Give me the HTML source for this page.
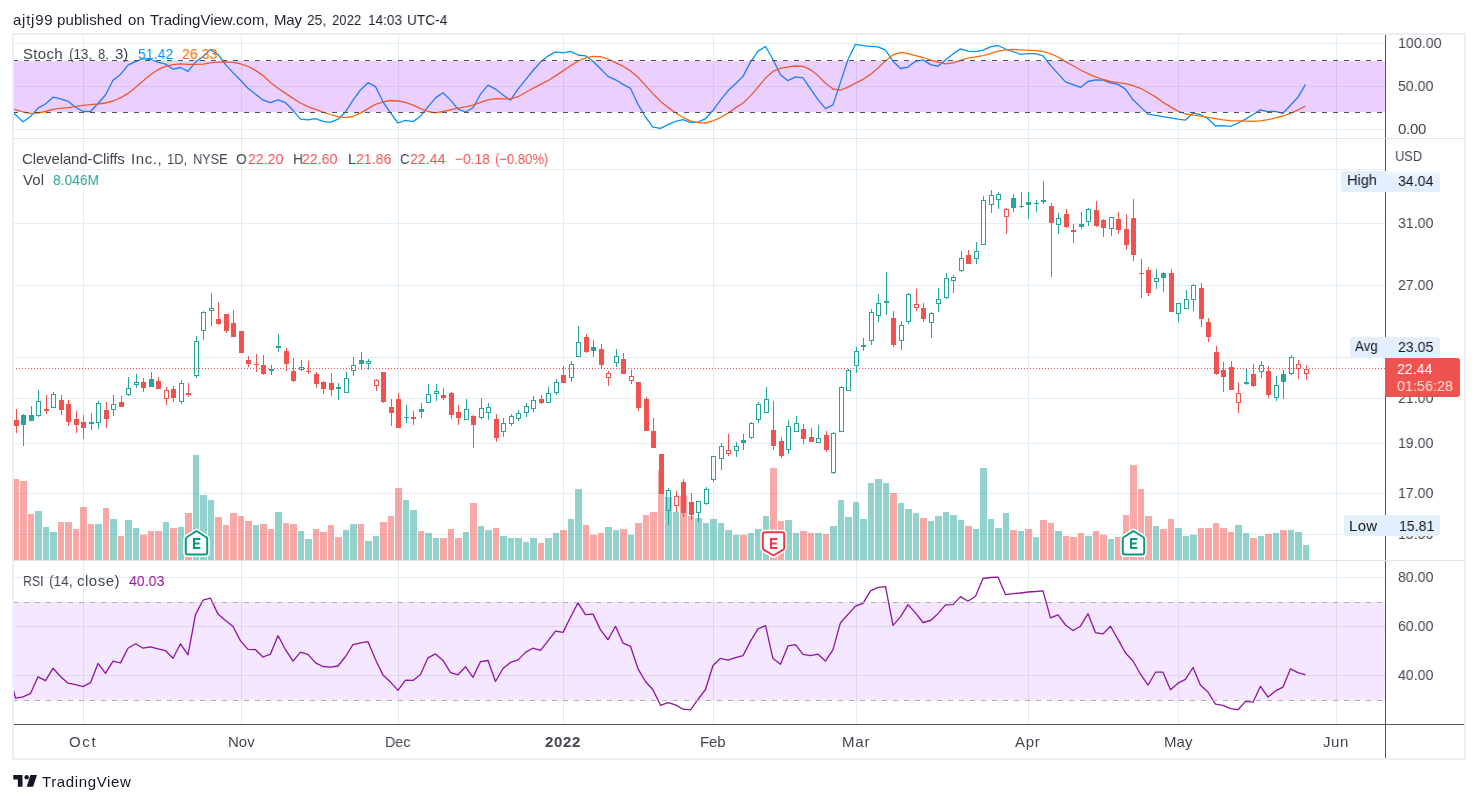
<!DOCTYPE html><html><head><meta charset="utf-8"><title>CLF chart</title><style>
html,body{margin:0;padding:0;background:#fff;}
body{width:1478px;height:803px;position:relative;overflow:hidden;font-family:"Liberation Sans",sans-serif;font-size:15px;}
.t{will-change:transform;position:absolute;white-space:nowrap;line-height:16px;height:16px;font-size:15px;}
.b{position:absolute;border-radius:3px;}

</style></head><body>
<svg width="1478" height="803" viewBox="0 0 1478 803" style="position:absolute;left:0;top:0">
<path d="M83.5 35V724M241.5 35V724M398.5 35V724M563.5 35V724M713.5 35V724M856.5 35V724M1028.5 35V724M1178.5 35V724M1336.5 35V724M14 43.5H1385M14 86.5H1385M14 129.5H1385M14 169.5H1385M14 223.5H1385M14 285.5H1385M14 357.5H1385M14 398.5H1385M14 443.5H1385M14 493.5H1385M14 534.5H1385M14 577.5H1385M14 626.5H1385M14 675.5H1385" stroke="#e3edf4" stroke-width="1" fill="none"/>
<clipPath id="c1"><rect x="14" y="34" width="1371" height="104"/></clipPath>
<g clip-path="url(#c1)" fill="none" stroke-width="1.3" stroke-linejoin="round">
<polyline points="13.4,112.8 15.5,114.8 23.0,121.8 30.5,116.5 38.0,108.1 45.5,104.0 53.0,97.2 60.5,98.9 68.0,101.3 75.5,107.2 83.0,111.5 90.5,111.5 98.0,103.5 105.5,95.0 113.0,80.3 120.5,74.4 128.0,65.1 135.5,61.7 143.0,58.7 150.5,59.5 158.0,62.1 165.5,64.1 173.0,69.2 180.5,67.5 188.0,71.4 195.5,62.1 203.0,56.7 210.5,49.4 218.0,54.5 225.5,64.6 233.0,72.6 240.5,80.3 248.0,88.3 255.5,94.2 263.0,100.1 270.5,102.7 278.0,99.8 285.5,102.7 293.0,110.3 300.5,119.1 308.0,119.9 315.5,118.7 323.0,121.3 330.5,122.3 338.0,119.2 345.5,112.0 353.0,100.1 360.5,90.0 368.0,82.7 375.5,86.6 383.0,101.8 390.5,112.8 398.0,123.0 405.5,120.4 413.0,121.6 420.5,116.2 428.0,106.9 435.5,97.9 443.0,92.8 450.5,100.1 458.0,109.1 465.5,112.0 473.0,107.7 480.5,94.2 488.0,85.1 495.5,89.1 503.0,95.0 510.5,100.1 518.0,89.1 525.5,79.8 533.0,70.5 540.5,62.1 548.0,56.1 555.5,51.9 563.0,52.8 570.5,51.4 578.0,55.0 585.5,55.8 593.0,61.2 600.5,68.8 608.0,76.4 615.5,79.8 623.0,84.4 630.5,88.3 638.0,104.4 645.5,117.0 653.0,127.2 660.5,128.4 668.0,124.6 675.5,121.3 683.0,119.6 690.5,122.4 698.0,122.1 705.5,118.7 713.0,110.3 720.5,100.1 728.0,90.8 735.5,83.7 743.0,76.4 750.5,62.1 758.0,51.1 765.5,46.5 773.0,59.5 780.5,74.7 788.0,80.7 795.5,76.9 803.0,77.8 810.5,88.8 818.0,99.6 825.5,108.6 833.0,104.9 840.5,82.4 848.0,59.5 855.5,44.3 863.0,45.7 870.5,46.3 878.0,46.8 885.5,50.2 893.0,61.2 900.5,68.5 908.0,67.1 915.5,61.2 923.0,59.9 930.5,64.6 938.0,66.3 945.5,60.0 953.0,53.9 960.5,48.9 968.0,51.2 975.5,51.6 983.0,50.2 990.5,46.8 998.0,45.5 1005.5,49.0 1013.0,51.6 1020.5,54.3 1028.0,53.6 1035.5,53.6 1043.0,55.8 1050.5,65.4 1058.0,73.6 1065.5,81.9 1073.0,84.6 1080.5,87.4 1088.0,81.5 1095.5,79.8 1103.0,80.2 1110.5,82.9 1118.0,84.4 1125.5,89.1 1133.0,99.8 1140.5,106.9 1148.0,114.2 1155.5,115.3 1163.0,116.7 1170.5,117.9 1178.0,119.2 1185.5,120.1 1193.0,113.1 1200.5,114.7 1208.0,118.7 1215.5,126.0 1223.0,125.7 1230.5,126.3 1238.0,123.0 1245.5,119.1 1253.0,114.5 1260.5,109.9 1268.0,111.6 1275.5,111.3 1283.0,113.3 1290.5,105.2 1298.0,97.2 1305.5,84.4" stroke="#0094ff"/>
<polyline points="13.4,108.9 15.5,109.6 23.0,112.0 30.5,113.3 38.0,113.1 45.5,111.5 53.0,109.4 60.5,108.4 68.0,107.7 75.5,106.7 83.0,105.4 90.5,104.7 98.0,104.0 105.5,103.0 113.0,101.0 120.5,97.9 128.0,93.4 135.5,87.4 143.0,81.0 150.5,74.7 158.0,69.7 165.5,66.3 173.0,64.6 180.5,63.8 188.0,64.3 195.5,64.4 203.0,64.1 210.5,62.9 218.0,62.1 225.5,61.9 233.0,62.4 240.5,63.8 248.0,66.3 255.5,70.4 263.0,75.6 270.5,82.4 278.0,88.3 285.5,93.4 293.0,98.4 300.5,103.0 308.0,106.7 315.5,109.4 323.0,112.1 330.5,114.5 338.0,116.7 345.5,117.7 353.0,116.5 360.5,113.1 368.0,108.6 375.5,104.4 383.0,101.8 390.5,100.5 398.0,101.0 405.5,102.3 413.0,105.2 420.5,108.6 428.0,111.5 435.5,112.8 443.0,111.5 450.5,109.8 458.0,108.1 465.5,106.9 473.0,105.2 480.5,102.3 488.0,99.8 495.5,98.6 503.0,98.9 510.5,98.9 518.0,96.7 525.5,92.5 533.0,88.3 540.5,84.4 548.0,80.7 555.5,75.9 563.0,70.9 570.5,65.8 578.0,61.2 585.5,57.8 593.0,56.3 600.5,56.7 608.0,59.0 615.5,62.6 623.0,66.3 630.5,70.9 638.0,77.3 645.5,85.4 653.0,93.9 660.5,101.3 668.0,107.4 675.5,112.8 683.0,117.5 690.5,120.9 698.0,122.6 705.5,123.0 713.0,120.9 720.5,117.5 728.0,113.1 735.5,107.9 743.0,103.0 750.5,95.9 758.0,87.1 765.5,78.1 773.0,71.4 780.5,68.3 788.0,66.8 795.5,66.0 803.0,66.3 810.5,69.7 818.0,75.6 825.5,83.2 833.0,89.1 840.5,90.0 848.0,87.1 855.5,83.2 863.0,79.3 870.5,74.4 878.0,68.0 885.5,60.9 893.0,54.8 900.5,52.4 908.0,53.6 915.5,55.6 923.0,57.5 930.5,60.0 938.0,62.1 945.5,63.8 953.0,62.9 960.5,60.4 968.0,58.2 975.5,56.8 983.0,55.6 990.5,53.6 998.0,51.2 1005.5,49.9 1013.0,49.4 1020.5,49.9 1028.0,50.2 1035.5,50.6 1043.0,51.4 1050.5,53.6 1058.0,57.0 1065.5,61.6 1073.0,65.8 1080.5,70.0 1088.0,73.6 1095.5,76.8 1103.0,79.5 1110.5,81.5 1118.0,82.7 1125.5,83.7 1133.0,85.7 1140.5,88.3 1148.0,92.5 1155.5,96.9 1163.0,102.2 1170.5,106.9 1178.0,111.1 1185.5,114.0 1193.0,115.2 1200.5,116.2 1208.0,117.4 1215.5,118.6 1223.0,119.9 1230.5,120.6 1238.0,120.9 1245.5,121.1 1253.0,121.3 1260.5,120.8 1268.0,119.6 1275.5,117.9 1283.0,116.0 1290.5,113.3 1298.0,109.9 1305.5,106.0" stroke="#ff6a00"/>
</g>
<rect x="14" y="61" width="1371" height="51" fill="rgba(153,21,255,0.2)"/>
<path d="M13 60.5H1385M13 112.5H1385" stroke="#55505a" stroke-width="1" stroke-dasharray="5 6" fill="none"/>
<path d="M35 511.0H42V560H35ZM43 527.0H49V560H43ZM50 531.9H57V560H50ZM95 524.0H102V560H95ZM110 518.9H117V560H110ZM125 520.0H132V560H125ZM133 527.9H139V560H133ZM163 522.0H169V560H163ZM178 527.0H184V560H178ZM193 454.9H199V560H193ZM200 495.0H207V560H200ZM208 500.0H214V560H208ZM253 525.0H259V560H253ZM275 511.9H282V560H275ZM298 531.0H304V560H298ZM305 539.0H312V560H305ZM343 529.9H349V560H343ZM350 524.0H357V560H350ZM365 541.0H372V560H365ZM373 535.9H379V560H373ZM403 500.0H409V560H403ZM410 510.0H417V560H410ZM425 532.9H432V560H425ZM433 538.0H439V560H433ZM463 531.9H469V560H463ZM478 525.9H484V560H478ZM485 529.9H492V560H485ZM500 535.9H507V560H500ZM508 538.0H514V560H508ZM515 538.0H522V560H515ZM523 542.0H529V560H523ZM530 538.0H537V560H530ZM545 538.0H552V560H545ZM553 532.9H559V560H553ZM568 518.9H574V560H568ZM575 489.0H582V560H575ZM605 527.0H612V560H605ZM613 529.9H619V560H613ZM628 534.8H634V560H628ZM665 496.9H672V560H665ZM673 511.9H679V560H673ZM695 518.0H702V560H695ZM703 522.9H709V560H703ZM710 518.9H717V560H710ZM718 522.9H724V560H718ZM725 529.9H732V560H725ZM733 534.8H739V560H733ZM748 532.9H754V560H748ZM755 528.9H762V560H755ZM763 515.9H769V560H763ZM785 520.0H792V560H785ZM793 532.9H799V560H793ZM815 532.9H822V560H815ZM830 525.9H837V560H830ZM838 500.0H844V560H838ZM845 517.0H852V560H845ZM853 502.0H859V560H853ZM860 518.9H867V560H860ZM868 483.0H874V560H868ZM875 479.0H882V560H875ZM883 483.0H889V560H883ZM898 503.0H904V560H898ZM905 508.9H912V560H905ZM913 513.0H919V560H913ZM928 521.0H934V560H928ZM935 515.9H942V560H935ZM943 511.9H949V560H943ZM950 514.9H957V560H950ZM958 520.0H964V560H958ZM973 528.9H979V560H973ZM980 468.0H987V560H980ZM988 518.9H994V560H988ZM995 527.9H1002V560H995ZM1003 513.0H1009V560H1003ZM1018 531.0H1024V560H1018ZM1033 536.9H1039V560H1033ZM1055 531.0H1062V560H1055ZM1085 535.9H1092V560H1085ZM1108 539.0H1114V560H1108ZM1153 525.9H1159V560H1153ZM1175 527.9H1182V560H1175ZM1183 535.9H1189V560H1183ZM1190 534.8H1197V560H1190ZM1235 525.0H1242V560H1235ZM1243 532.9H1249V560H1243ZM1258 536.1H1264V560H1258ZM1273 533.1H1279V560H1273ZM1288 530.0H1294V560H1288ZM1295 532.1H1302V560H1295ZM1303 545.1H1309V560H1303Z" fill="rgba(38,166,154,0.5)"/>
<path d="M14 479.0H19V560H14ZM20 481.0H27V560H20ZM28 514.0H34V560H28ZM58 522.0H64V560H58ZM65 522.0H72V560H65ZM73 528.9H79V560H73ZM80 507.0H87V560H80ZM88 524.0H94V560H88ZM103 508.1H109V560H103ZM118 535.9H124V560H118ZM140 534.8H147V560H140ZM148 531.0H154V560H148ZM155 531.0H162V560H155ZM170 527.9H177V560H170ZM185 513.0H192V560H185ZM215 517.0H222V560H215ZM223 525.0H229V560H223ZM230 513.0H237V560H230ZM238 515.9H244V560H238ZM245 521.0H252V560H245ZM260 524.0H267V560H260ZM268 528.9H274V560H268ZM283 522.9H289V560H283ZM290 524.0H297V560H290ZM313 528.9H319V560H313ZM320 531.9H327V560H320ZM328 525.0H334V560H328ZM335 536.9H342V560H335ZM358 524.0H364V560H358ZM380 522.0H387V560H380ZM388 515.9H394V560H388ZM395 488.0H402V560H395ZM418 531.0H424V560H418ZM440 538.0H447V560H440ZM448 528.9H454V560H448ZM455 538.0H462V560H455ZM470 503.0H477V560H470ZM493 527.9H499V560H493ZM538 543.0H544V560H538ZM560 529.9H567V560H560ZM583 525.0H589V560H583ZM590 534.8H597V560H590ZM598 532.9H604V560H598ZM620 528.9H627V560H620ZM635 522.9H642V560H635ZM643 514.9H649V560H643ZM650 511.9H657V560H650ZM658 470.1H664V560H658ZM680 495.8H687V560H680ZM688 515.9H694V560H688ZM740 534.8H747V560H740ZM770 468.0H777V560H770ZM778 521.0H784V560H778ZM800 531.0H807V560H800ZM808 532.9H814V560H808ZM823 534.0H829V560H823ZM890 493.0H897V560H890ZM920 518.0H927V560H920ZM965 525.9H972V560H965ZM1010 529.9H1017V560H1010ZM1025 528.9H1032V560H1025ZM1040 520.0H1047V560H1040ZM1048 522.9H1054V560H1048ZM1063 535.9H1069V560H1063ZM1070 536.9H1077V560H1070ZM1078 532.9H1084V560H1078ZM1093 531.0H1099V560H1093ZM1100 534.8H1107V560H1100ZM1115 536.9H1122V560H1115ZM1123 514.9H1129V560H1123ZM1130 464.9H1137V560H1130ZM1138 489.0H1144V560H1138ZM1145 515.9H1152V560H1145ZM1160 528.9H1167V560H1160ZM1168 518.9H1174V560H1168ZM1198 527.9H1204V560H1198ZM1205 527.9H1212V560H1205ZM1213 522.9H1219V560H1213ZM1220 527.9H1227V560H1220ZM1228 531.9H1234V560H1228ZM1250 538.0H1257V560H1250ZM1265 534.1H1272V560H1265ZM1280 530.0H1287V560H1280Z" fill="rgba(239,83,80,0.5)"/>
<path d="M13 368.5H1385" stroke="#ef5350" stroke-width="1" stroke-dasharray="1 2" fill="none"/>
<path d="M23 414h1V415h-1ZM23 425h1V446h-1ZM21 415h5V425h-5ZM31 406h1V415h-1ZM29 415h5V421h-5ZM38 390h1V401h-1ZM38 416h1V417h-1ZM53 392h1V394h-1ZM91 413h1V422h-1ZM91 424h1V430h-1ZM89 422h5V424h-5ZM98 401h1V403h-1ZM98 423h1V429h-1ZM113 395h1V404h-1ZM113 410h1V416h-1ZM128 377h1V388h-1ZM128 395h1V396h-1ZM136 374h1V382h-1ZM136 385h1V388h-1ZM151 372h1V379h-1ZM149 379h5V387h-5ZM181 380h1V383h-1ZM181 402h1V404h-1ZM196 336h1V341h-1ZM196 376h1V378h-1ZM203 311h1V312h-1ZM203 331h1V340h-1ZM211 293h1V308h-1ZM211 311h1V326h-1ZM271 365h1V369h-1ZM271 371h1V375h-1ZM269 369h5V371h-5ZM278 334h1V346h-1ZM278 348h1V352h-1ZM276 346h5V348h-5ZM301 360h1V367h-1ZM301 370h1V371h-1ZM338 383h1V387h-1ZM338 389h1V400h-1ZM336 387h5V389h-5ZM346 372h1V378h-1ZM353 357h1V365h-1ZM353 371h1V376h-1ZM361 352h1V360h-1ZM361 364h1V370h-1ZM359 360h5V364h-5ZM368 359h1V361h-1ZM368 364h1V370h-1ZM406 405h1V417h-1ZM406 418h1V423h-1ZM404 417h5V418h-5ZM421 403h1V409h-1ZM421 412h1V418h-1ZM419 409h5V412h-5ZM428 384h1V394h-1ZM436 384h1V391h-1ZM436 394h1V401h-1ZM466 399h1V409h-1ZM481 398h1V408h-1ZM481 418h1V419h-1ZM488 403h1V407h-1ZM488 413h1V420h-1ZM503 418h1V423h-1ZM503 432h1V437h-1ZM511 414h1V416h-1ZM511 424h1V426h-1ZM518 410h1V413h-1ZM518 419h1V421h-1ZM526 403h1V406h-1ZM526 413h1V417h-1ZM533 396h1V400h-1ZM533 409h1V412h-1ZM548 387h1V393h-1ZM556 379h1V382h-1ZM556 393h1V395h-1ZM571 361h1V364h-1ZM571 378h1V382h-1ZM578 326h1V342h-1ZM593 340h1V347h-1ZM593 351h1V357h-1ZM591 347h5V351h-5ZM616 349h1V356h-1ZM616 363h1V367h-1ZM668 488h1V490h-1ZM668 511h1V525h-1ZM698 513h1V522h-1ZM706 487h1V489h-1ZM706 504h1V505h-1ZM713 480h1V482h-1ZM721 443h1V446h-1ZM721 459h1V470h-1ZM736 442h1V446h-1ZM736 451h1V457h-1ZM743 434h1V440h-1ZM743 443h1V450h-1ZM741 440h5V443h-5ZM751 422h1V423h-1ZM751 438h1V439h-1ZM758 402h1V404h-1ZM758 420h1V423h-1ZM766 387h1V399h-1ZM788 420h1V426h-1ZM788 450h1V454h-1ZM796 416h1V423h-1ZM818 425h1V438h-1ZM833 432h1V433h-1ZM833 473h1V474h-1ZM841 386h1V387h-1ZM848 369h1V370h-1ZM856 347h1V351h-1ZM856 366h1V373h-1ZM863 338h1V345h-1ZM863 347h1V351h-1ZM861 345h5V347h-5ZM871 309h1V312h-1ZM871 341h1V345h-1ZM878 294h1V303h-1ZM878 316h1V322h-1ZM886 272h1V301h-1ZM886 303h1V315h-1ZM884 301h5V303h-5ZM901 321h1V325h-1ZM901 341h1V350h-1ZM908 293h1V294h-1ZM908 322h1V324h-1ZM931 312h1V313h-1ZM931 323h1V338h-1ZM938 288h1V299h-1ZM938 304h1V312h-1ZM946 273h1V278h-1ZM946 298h1V299h-1ZM953 275h1V277h-1ZM953 281h1V293h-1ZM961 251h1V258h-1ZM961 271h1V272h-1ZM976 242h1V251h-1ZM976 259h1V264h-1ZM983 196h1V200h-1ZM991 190h1V195h-1ZM991 205h1V213h-1ZM998 192h1V194h-1ZM998 200h1V209h-1ZM1013 194h1V198h-1ZM1013 208h1V212h-1ZM1011 198h5V208h-5ZM1021 192h1V206h-1ZM1021 207h1V208h-1ZM1019 206h5V207h-5ZM1028 192h1V202h-1ZM1028 205h1V219h-1ZM1026 202h5V205h-5ZM1036 200h1V203h-1ZM1036 204h1V212h-1ZM1034 203h5V204h-5ZM1043 181h1V200h-1ZM1043 202h1V204h-1ZM1041 200h5V202h-5ZM1058 213h1V218h-1ZM1058 225h1V234h-1ZM1081 212h1V224h-1ZM1081 227h1V229h-1ZM1079 224h5V227h-5ZM1088 208h1V209h-1ZM1088 222h1V226h-1ZM1111 229h1V236h-1ZM1156 269h1V278h-1ZM1156 282h1V289h-1ZM1163 272h1V273h-1ZM1163 278h1V292h-1ZM1161 273h5V278h-5ZM1178 314h1V322h-1ZM1186 290h1V299h-1ZM1193 284h1V285h-1ZM1193 300h1V311h-1ZM1246 369h1V382h-1ZM1246 384h1V385h-1ZM1244 382h5V384h-5ZM1261 361h1V365h-1ZM1261 372h1V378h-1ZM1276 376h1V385h-1ZM1276 398h1V401h-1ZM1283 370h1V374h-1ZM1283 382h1V399h-1ZM1281 374h5V382h-5ZM1291 355h1V357h-1ZM1291 374h1V375h-1Z" fill="#26a69a"/>
<path d="M16 409h1V420h-1ZM16 426h1V433h-1ZM14 420h5V426h-5ZM46 395h1V409h-1ZM46 411h1V414h-1ZM44 409h5V411h-5ZM61 395h1V400h-1ZM61 410h1V415h-1ZM59 400h5V410h-5ZM68 400h1V404h-1ZM68 422h1V426h-1ZM66 404h5V422h-5ZM76 411h1V419h-1ZM76 425h1V433h-1ZM74 419h5V425h-5ZM83 415h1V422h-1ZM83 428h1V439h-1ZM81 422h5V428h-5ZM106 402h1V410h-1ZM106 419h1V428h-1ZM104 410h5V419h-5ZM121 396h1V402h-1ZM119 402h5V407h-5ZM143 378h1V382h-1ZM143 388h1V392h-1ZM141 382h5V388h-5ZM158 377h1V381h-1ZM156 381h5V389h-5ZM166 387h1V390h-1ZM166 399h1V405h-1ZM173 386h1V389h-1ZM173 398h1V402h-1ZM171 389h5V398h-5ZM188 383h1V393h-1ZM188 395h1V397h-1ZM186 393h5V395h-5ZM218 302h1V319h-1ZM218 324h1V325h-1ZM216 319h5V324h-5ZM226 331h1V333h-1ZM224 314h5V331h-5ZM233 310h1V323h-1ZM231 323h5V337h-5ZM239 331h5V353h-5ZM248 356h1V360h-1ZM248 364h1V367h-1ZM246 360h5V364h-5ZM256 354h1V364h-1ZM256 365h1V372h-1ZM254 364h5V365h-5ZM263 355h1V365h-1ZM263 374h1V375h-1ZM261 365h5V374h-5ZM286 348h1V351h-1ZM286 364h1V371h-1ZM284 351h5V364h-5ZM293 358h1V371h-1ZM293 381h1V382h-1ZM291 371h5V381h-5ZM308 361h1V371h-1ZM308 372h1V374h-1ZM306 371h5V372h-5ZM316 372h1V374h-1ZM316 384h1V388h-1ZM314 374h5V384h-5ZM323 381h1V382h-1ZM323 389h1V394h-1ZM321 382h5V389h-5ZM331 373h1V383h-1ZM331 390h1V396h-1ZM329 383h5V390h-5ZM376 379h1V380h-1ZM376 386h1V391h-1ZM383 402h1V403h-1ZM381 372h5V402h-5ZM391 399h1V407h-1ZM391 413h1V426h-1ZM389 407h5V413h-5ZM398 393h1V399h-1ZM396 399h5V428h-5ZM413 411h1V417h-1ZM413 419h1V425h-1ZM411 417h5V419h-5ZM443 388h1V395h-1ZM443 398h1V400h-1ZM441 395h5V398h-5ZM451 392h1V393h-1ZM451 415h1V419h-1ZM449 393h5V415h-5ZM458 405h1V412h-1ZM458 418h1V425h-1ZM456 412h5V418h-5ZM473 415h1V416h-1ZM473 425h1V448h-1ZM471 416h5V425h-5ZM496 414h1V419h-1ZM496 438h1V442h-1ZM494 419h5V438h-5ZM541 395h1V399h-1ZM541 403h1V404h-1ZM539 399h5V403h-5ZM563 366h1V375h-1ZM561 375h5V383h-5ZM586 334h1V337h-1ZM586 352h1V353h-1ZM584 337h5V352h-5ZM601 344h1V349h-1ZM601 365h1V368h-1ZM599 349h5V365h-5ZM608 371h1V373h-1ZM608 378h1V386h-1ZM623 353h1V359h-1ZM621 359h5V374h-5ZM631 370h1V376h-1ZM631 381h1V384h-1ZM638 408h1V411h-1ZM636 382h5V408h-5ZM646 397h1V399h-1ZM644 399h5V431h-5ZM653 418h1V431h-1ZM651 431h5V448h-5ZM659 454h5V494h-5ZM676 491h1V496h-1ZM676 506h1V512h-1ZM683 479h1V482h-1ZM683 513h1V517h-1ZM681 482h5V513h-5ZM691 493h1V502h-1ZM691 515h1V520h-1ZM689 502h5V515h-5ZM728 434h1V450h-1ZM728 454h1V456h-1ZM773 401h1V430h-1ZM773 446h1V450h-1ZM771 430h5V446h-5ZM781 437h1V441h-1ZM781 456h1V458h-1ZM779 441h5V456h-5ZM803 424h1V429h-1ZM803 439h1V444h-1ZM801 429h5V439h-5ZM811 428h1V437h-1ZM809 437h5V442h-5ZM826 431h1V435h-1ZM826 450h1V452h-1ZM824 435h5V450h-5ZM893 311h1V318h-1ZM893 345h1V347h-1ZM891 318h5V345h-5ZM916 289h1V304h-1ZM916 308h1V311h-1ZM923 303h1V308h-1ZM923 319h1V322h-1ZM921 308h5V319h-5ZM968 250h1V255h-1ZM966 255h5V264h-5ZM1006 208h1V209h-1ZM1006 217h1V234h-1ZM1051 203h1V206h-1ZM1051 223h1V277h-1ZM1049 206h5V223h-5ZM1066 209h1V214h-1ZM1066 227h1V228h-1ZM1064 214h5V227h-5ZM1073 224h1V230h-1ZM1073 232h1V243h-1ZM1071 230h5V232h-5ZM1096 201h1V210h-1ZM1096 226h1V227h-1ZM1094 210h5V226h-5ZM1103 219h1V220h-1ZM1103 228h1V237h-1ZM1101 220h5V228h-5ZM1118 212h1V219h-1ZM1118 230h1V234h-1ZM1116 219h5V230h-5ZM1126 214h1V229h-1ZM1126 245h1V250h-1ZM1124 229h5V245h-5ZM1133 199h1V218h-1ZM1133 255h1V261h-1ZM1131 218h5V255h-5ZM1141 259h1V273h-1ZM1141 274h1V298h-1ZM1139 273h5V274h-5ZM1148 267h1V270h-1ZM1148 293h1V296h-1ZM1146 270h5V293h-5ZM1171 269h1V273h-1ZM1169 273h5V312h-5ZM1201 283h1V288h-1ZM1201 319h1V327h-1ZM1199 288h5V319h-5ZM1208 318h1V322h-1ZM1208 337h1V342h-1ZM1206 322h5V337h-5ZM1216 346h1V352h-1ZM1216 374h1V375h-1ZM1214 352h5V374h-5ZM1223 362h1V370h-1ZM1223 377h1V392h-1ZM1221 370h5V377h-5ZM1231 361h1V367h-1ZM1229 367h5V390h-5ZM1238 382h1V393h-1ZM1238 403h1V413h-1ZM1253 364h1V374h-1ZM1253 386h1V387h-1ZM1251 374h5V386h-5ZM1268 366h1V371h-1ZM1268 395h1V398h-1ZM1266 371h5V395h-5ZM1298 360h1V364h-1ZM1298 369h1V379h-1ZM1306 365h1V369h-1ZM1306 374h1V380h-1Z" fill="#ef5350"/>
<path d="M36 401h5V416h-5ZM37 402h3V415h-3ZM51 394h5V408h-5ZM52 395h3V407h-3ZM96 403h5V423h-5ZM97 404h3V422h-3ZM111 404h5V410h-5ZM112 405h3V409h-3ZM126 388h5V395h-5ZM127 389h3V394h-3ZM134 382h5V385h-5ZM135 383h3V384h-3ZM179 383h5V402h-5ZM180 384h3V401h-3ZM194 341h5V376h-5ZM195 342h3V375h-3ZM201 312h5V331h-5ZM202 313h3V330h-3ZM209 308h5V311h-5ZM210 309h3V310h-3ZM299 367h5V370h-5ZM300 368h3V369h-3ZM344 378h5V393h-5ZM345 379h3V392h-3ZM351 365h5V371h-5ZM352 366h3V370h-3ZM366 361h5V364h-5ZM367 362h3V363h-3ZM426 394h5V403h-5ZM427 395h3V402h-3ZM434 391h5V394h-5ZM435 392h3V393h-3ZM464 409h5V420h-5ZM465 410h3V419h-3ZM479 408h5V418h-5ZM480 409h3V417h-3ZM486 407h5V413h-5ZM487 408h3V412h-3ZM501 423h5V432h-5ZM502 424h3V431h-3ZM509 416h5V424h-5ZM510 417h3V423h-3ZM516 413h5V419h-5ZM517 414h3V418h-3ZM524 406h5V413h-5ZM525 407h3V412h-3ZM531 400h5V409h-5ZM532 401h3V408h-3ZM546 393h5V403h-5ZM547 394h3V402h-3ZM554 382h5V393h-5ZM555 383h3V392h-3ZM569 364h5V378h-5ZM570 365h3V377h-3ZM576 342h5V357h-5ZM577 343h3V356h-3ZM614 356h5V363h-5ZM615 357h3V362h-3ZM666 490h5V511h-5ZM667 491h3V510h-3ZM696 501h5V513h-5ZM697 502h3V512h-3ZM704 489h5V504h-5ZM705 490h3V503h-3ZM711 456h5V480h-5ZM712 457h3V479h-3ZM719 446h5V459h-5ZM720 447h3V458h-3ZM734 446h5V451h-5ZM735 447h3V450h-3ZM749 423h5V438h-5ZM750 424h3V437h-3ZM756 404h5V420h-5ZM757 405h3V419h-3ZM764 399h5V413h-5ZM765 400h3V412h-3ZM786 426h5V450h-5ZM787 427h3V449h-3ZM794 423h5V432h-5ZM795 424h3V431h-3ZM816 438h5V443h-5ZM817 439h3V442h-3ZM831 433h5V473h-5ZM832 434h3V472h-3ZM839 387h5V432h-5ZM840 388h3V431h-3ZM846 370h5V391h-5ZM847 371h3V390h-3ZM854 351h5V366h-5ZM855 352h3V365h-3ZM869 312h5V341h-5ZM870 313h3V340h-3ZM876 303h5V316h-5ZM877 304h3V315h-3ZM899 325h5V341h-5ZM900 326h3V340h-3ZM906 294h5V322h-5ZM907 295h3V321h-3ZM929 313h5V323h-5ZM930 314h3V322h-3ZM936 299h5V304h-5ZM937 300h3V303h-3ZM944 278h5V298h-5ZM945 279h3V297h-3ZM951 277h5V281h-5ZM952 278h3V280h-3ZM959 258h5V271h-5ZM960 259h3V270h-3ZM974 251h5V259h-5ZM975 252h3V258h-3ZM981 200h5V245h-5ZM982 201h3V244h-3ZM989 195h5V205h-5ZM990 196h3V204h-3ZM996 194h5V200h-5ZM997 195h3V199h-3ZM1056 218h5V225h-5ZM1057 219h3V224h-3ZM1086 209h5V222h-5ZM1087 210h3V221h-3ZM1109 217h5V229h-5ZM1110 218h3V228h-3ZM1154 278h5V282h-5ZM1155 279h3V281h-3ZM1176 303h5V314h-5ZM1177 304h3V313h-3ZM1184 299h5V309h-5ZM1185 300h3V308h-3ZM1191 285h5V300h-5ZM1192 286h3V299h-3ZM1259 365h5V372h-5ZM1260 366h3V371h-3ZM1274 385h5V398h-5ZM1275 386h3V397h-3ZM1289 357h5V374h-5ZM1290 358h3V373h-3Z" fill="#26a69a" fill-rule="evenodd"/>
<path d="M164 390h5V399h-5ZM165 391h3V398h-3ZM374 380h5V386h-5ZM375 381h3V385h-3ZM606 373h5V378h-5ZM607 374h3V377h-3ZM629 376h5V381h-5ZM630 377h3V380h-3ZM674 496h5V506h-5ZM675 497h3V505h-3ZM726 450h5V454h-5ZM727 451h3V453h-3ZM914 304h5V308h-5ZM915 305h3V307h-3ZM1004 209h5V217h-5ZM1005 210h3V216h-3ZM1236 393h5V403h-5ZM1237 394h3V402h-3ZM1296 364h5V369h-5ZM1297 365h3V368h-3ZM1304 369h5V374h-5ZM1305 370h3V373h-3Z" fill="#ef5350" fill-rule="evenodd"/>
<path d="M185.8 539Q185.8 537.7 187.0 537L196.5 531L206.0 537Q207.2 537.7 207.2 539V552.6Q207.2 554.6 205.2 554.6H187.8Q185.8 554.6 185.8 552.6Z" fill="#fff" stroke="#fff" stroke-width="5" stroke-linejoin="round"/><path d="M185.8 539Q185.8 537.7 187.0 537L196.5 531L206.0 537Q207.2 537.7 207.2 539V552.6Q207.2 554.6 205.2 554.6H187.8Q185.8 554.6 185.8 552.6Z" fill="#fff" stroke="#089981" stroke-width="2" stroke-linejoin="round"/><path d="M193.0 538h7.4v2h-5.3v2.6h4.5v1.9h-4.5v2.5h5.3v2h-7.4Z" fill="#089981"/>
<path d="M762.8 547.8Q762.8 549.1 764.0 549.8L773.5 555.5L783.0 549.8Q784.2 549.1 784.2 547.8V534.2Q784.2 532.2 782.2 532.2H764.8Q762.8 532.2 762.8 534.2Z" fill="#fff" stroke="#fff" stroke-width="5" stroke-linejoin="round"/><path d="M762.8 547.8Q762.8 549.1 764.0 549.8L773.5 555.5L783.0 549.8Q784.2 549.1 784.2 547.8V534.2Q784.2 532.2 782.2 532.2H764.8Q762.8 532.2 762.8 534.2Z" fill="#fff" stroke="#f23645" stroke-width="2" stroke-linejoin="round"/><path d="M770.0 538h7.4v2h-5.3v2.6h4.5v1.9h-4.5v2.5h5.3v2h-7.4Z" fill="#f23645"/>
<path d="M1122.8 539Q1122.8 537.7 1124.0 537L1133.5 531L1143.0 537Q1144.2 537.7 1144.2 539V552.6Q1144.2 554.6 1142.2 554.6H1124.8Q1122.8 554.6 1122.8 552.6Z" fill="#fff" stroke="#fff" stroke-width="5" stroke-linejoin="round"/><path d="M1122.8 539Q1122.8 537.7 1124.0 537L1133.5 531L1143.0 537Q1144.2 537.7 1144.2 539V552.6Q1144.2 554.6 1142.2 554.6H1124.8Q1122.8 554.6 1122.8 552.6Z" fill="#fff" stroke="#089981" stroke-width="2" stroke-linejoin="round"/><path d="M1130.0 538h7.4v2h-5.3v2.6h4.5v1.9h-4.5v2.5h5.3v2h-7.4Z" fill="#089981"/>
<clipPath id="c3"><rect x="14" y="561" width="1371" height="163"/></clipPath>
<g clip-path="url(#c3)" fill="none" stroke-width="1.3" stroke-linejoin="round">
<polyline points="13.4,690.0 15.5,698.1 23.0,696.8 30.5,693.4 38.0,676.8 45.5,680.7 53.0,668.3 60.5,676.5 68.0,683.2 75.5,684.6 83.0,686.6 90.5,682.7 98.0,663.4 105.5,673.4 113.0,661.2 120.5,662.9 128.0,648.2 135.5,643.8 143.0,648.2 150.5,646.8 158.0,648.9 165.5,650.7 173.0,658.2 180.5,643.8 188.0,654.8 195.5,614.6 203.0,600.2 210.5,598.2 218.0,614.1 225.5,620.6 233.0,626.5 240.5,640.9 248.0,649.4 255.5,649.7 263.0,657.0 270.5,654.1 278.0,635.5 285.5,649.7 293.0,661.2 300.5,652.2 308.0,654.4 315.5,662.9 323.0,666.5 330.5,667.1 338.0,666.0 345.5,656.5 353.0,644.6 360.5,642.9 368.0,641.7 375.5,659.5 383.0,675.1 390.5,682.1 398.0,690.4 405.5,680.2 413.0,680.4 420.5,674.4 428.0,657.8 435.5,653.9 443.0,660.4 450.5,672.6 458.0,674.8 465.5,666.8 473.0,677.3 480.5,661.6 488.0,660.5 495.5,681.5 503.0,668.5 510.5,662.4 518.0,659.9 525.5,652.4 533.0,648.2 540.5,650.4 548.0,640.9 555.5,631.2 563.0,632.4 570.5,617.2 578.0,602.8 585.5,614.6 593.0,614.1 600.5,629.9 608.0,639.7 615.5,626.2 623.0,643.1 630.5,646.3 638.0,668.8 645.5,681.5 653.0,689.7 660.5,705.3 668.0,702.7 675.5,704.9 683.0,709.2 690.5,709.8 698.0,699.3 705.5,689.5 713.0,665.5 720.5,658.3 728.0,660.2 735.5,657.7 743.0,655.7 750.5,641.1 758.0,628.9 765.5,625.6 773.0,658.6 780.5,664.3 788.0,645.9 795.5,644.7 803.0,654.3 810.5,655.7 818.0,654.2 825.5,661.1 833.0,649.6 840.5,622.7 848.0,614.4 855.5,606.1 863.0,603.4 870.5,590.8 878.0,587.4 885.5,586.6 893.0,625.4 900.5,616.9 908.0,604.7 915.5,612.9 923.0,622.5 930.5,620.5 938.0,613.7 945.5,604.9 953.0,604.6 960.5,596.6 968.0,601.3 975.5,596.3 983.0,578.5 990.5,577.5 998.0,577.1 1005.5,594.6 1013.0,593.7 1020.5,593.0 1028.0,592.0 1035.5,591.5 1043.0,590.8 1050.5,617.8 1058.0,614.9 1065.5,625.0 1073.0,630.5 1080.5,626.2 1088.0,613.7 1095.5,632.7 1103.0,633.9 1110.5,626.2 1118.0,639.4 1125.5,653.0 1133.0,661.0 1140.5,674.2 1148.0,685.2 1155.5,672.2 1163.0,672.2 1170.5,689.7 1178.0,683.2 1185.5,679.3 1193.0,667.5 1200.5,685.3 1208.0,692.0 1215.5,704.1 1223.0,705.3 1230.5,708.6 1238.0,709.7 1245.5,701.4 1253.0,702.2 1260.5,686.3 1268.0,697.1 1275.5,690.9 1283.0,687.1 1290.5,668.8 1298.0,672.7 1305.5,674.9" stroke="#8e1599"/>
</g>
<rect x="14" y="602" width="1371" height="98.5" fill="rgba(153,21,255,0.1)"/>
<path d="M13 602.5H1385M13 700.5H1385" stroke="#b3adba" stroke-width="1" stroke-dasharray="5 6" fill="none"/>
<path d="M1385.5 35V758" stroke="#50535e" stroke-width="1" fill="none"/>
<path d="M12 33H1466V760H12ZM14 35V758H1464V35Z" fill="#eceef3" fill-rule="evenodd"/>
<path d="M14 138.5H1464M14 560.5H1464" stroke="#e0e3eb" stroke-width="1" fill="none"/>
<path d="M14 724.5H1464" stroke="#50535e" stroke-width="1" fill="none"/>
<path d="M13.3 775.1H22.5V786.8H17.85V779.5H13.3Z" fill="#131722"/>
<circle cx="26.65" cy="777.3" r="2.2" fill="#131722"/>
<path d="M30.4 775.1H37L33.1 786.8H26.7Z" fill="#131722"/>
</svg>
<div class="t" id="t0" style="left:12.70px;top:12.00px;color:#1e222d;letter-spacing:0.748px;z-index:1;">ajtj99</div>
<div class="t" id="t1" style="left:56.80px;top:12.00px;color:#1e222d;letter-spacing:0.110px;z-index:1;">published</div>
<div class="t" id="t2" style="left:127.60px;top:12.00px;color:#1e222d;letter-spacing:0.113px;z-index:1;">on</div>
<div class="t" id="t3" style="left:150.10px;top:12.00px;color:#1e222d;letter-spacing:0.014px;z-index:1;">TradingView.com,</div>
<div class="t" id="t4" style="left:274.10px;top:12.00px;color:#1e222d;letter-spacing:-0.122px;z-index:1;">May</div>
<div class="t" id="t5" style="left:307.10px;top:12.00px;color:#1e222d;letter-spacing:0.000px;transform:scaleX(0.9204);transform-origin:0 0;z-index:1;">25,</div>
<div class="t" id="t6" style="left:331.70px;top:12.00px;color:#1e222d;letter-spacing:0.000px;transform:scaleX(0.8779);transform-origin:0 0;z-index:1;">2022</div>
<div class="t" id="t7" style="left:367.80px;top:12.00px;color:#1e222d;letter-spacing:0.000px;transform:scaleX(0.9055);transform-origin:0 0;z-index:1;">14:03</div>
<div class="t" id="t8" style="left:407.00px;top:12.00px;color:#1e222d;letter-spacing:0.000px;transform:scaleX(0.9146);transform-origin:0 0;z-index:1;">UTC-4</div>
<div class="t" id="t9" style="left:22.50px;top:46.00px;color:#434651;letter-spacing:0.335px;z-index:1;">Stoch</div>
<div class="t" id="t10" style="left:68.50px;top:46.00px;color:#434651;letter-spacing:0.000px;transform:scaleX(0.8894);transform-origin:0 0;z-index:1;">(13,</div>
<div class="t" id="t11" style="left:97.60px;top:46.00px;color:#434651;letter-spacing:0.000px;transform:scaleX(0.8629);transform-origin:0 0;z-index:1;">8,</div>
<div class="t" id="t12" style="left:115.00px;top:46.00px;color:#434651;letter-spacing:-0.144px;z-index:1;">3)</div>
<div class="t" id="t13" style="left:138.00px;top:46.00px;color:#0094ff;letter-spacing:0.000px;transform:scaleX(0.9428);transform-origin:0 0;z-index:1;">51.42</div>
<div class="t" id="t14" style="left:182.00px;top:46.00px;color:#ff6a00;letter-spacing:0.000px;transform:scaleX(0.9428);transform-origin:0 0;z-index:1;">26.33</div>
<div class="t" id="t15" style="left:22.30px;top:151.00px;color:#434651;letter-spacing:-0.131px;z-index:1;">Cleveland-Cliffs</div>
<div class="t" id="t16" style="left:130.80px;top:151.00px;color:#434651;letter-spacing:0.585px;z-index:1;">Inc.,</div>
<div class="t" id="t17" style="left:166.80px;top:151.00px;color:#434651;letter-spacing:0.000px;transform:scaleX(0.8653);transform-origin:0 0;z-index:1;">1D,</div>
<div class="t" id="t18" style="left:192.70px;top:151.00px;color:#434651;letter-spacing:0.000px;transform:scaleX(0.8493);transform-origin:0 0;z-index:1;">NYSE</div>
<div class="t" id="t19" style="left:236.30px;top:151.00px;color:#434651;letter-spacing:0.000px;transform:scaleX(0.9253);transform-origin:0 0;z-index:1;">O</div>
<div class="t" id="t20" style="left:247.70px;top:151.00px;color:#ef5350;letter-spacing:0.000px;transform:scaleX(0.9428);transform-origin:0 0;z-index:1;">22.20</div>
<div class="t" id="t21" style="left:292.90px;top:151.00px;color:#434651;letter-spacing:0.000px;transform:scaleX(0.9314);transform-origin:0 0;z-index:1;">H</div>
<div class="t" id="t22" style="left:302.40px;top:151.00px;color:#ef5350;letter-spacing:0.000px;transform:scaleX(0.9428);transform-origin:0 0;z-index:1;">22.60</div>
<div class="t" id="t23" style="left:347.90px;top:151.00px;color:#434651;letter-spacing:0.000px;transform:scaleX(0.9708);transform-origin:0 0;z-index:1;">L</div>
<div class="t" id="t24" style="left:355.50px;top:151.00px;color:#ef5350;letter-spacing:0.000px;transform:scaleX(0.9428);transform-origin:0 0;z-index:1;">21.86</div>
<div class="t" id="t25" style="left:400.20px;top:151.00px;color:#434651;letter-spacing:0.000px;transform:scaleX(0.8853);transform-origin:0 0;z-index:1;">C</div>
<div class="t" id="t26" style="left:409.60px;top:151.00px;color:#ef5350;letter-spacing:0.000px;transform:scaleX(0.9428);transform-origin:0 0;z-index:1;">22.44</div>
<div class="t" id="t27" style="left:454.50px;top:151.00px;color:#ef5350;letter-spacing:0.000px;transform:scaleX(0.9218);transform-origin:0 0;z-index:1;">−0.18</div>
<div class="t" id="t28" style="left:495.30px;top:151.00px;color:#ef5350;letter-spacing:0.000px;transform:scaleX(0.8695);transform-origin:0 0;z-index:1;">(−0.80%)</div>
<div class="t" id="t29" style="left:22.80px;top:172.00px;color:#434651;letter-spacing:0.170px;z-index:1;">Vol</div>
<div class="t" id="t30" style="left:52.80px;top:172.00px;color:#26a69a;letter-spacing:0.000px;transform:scaleX(0.9211);transform-origin:0 0;z-index:1;">8.046M</div>
<div class="t" id="t31" style="left:22.60px;top:573.00px;color:#434651;letter-spacing:0.000px;transform:scaleX(0.8235);transform-origin:0 0;z-index:1;">RSI</div>
<div class="t" id="t32" style="left:49.00px;top:573.00px;color:#434651;letter-spacing:0.000px;transform:scaleX(0.9126);transform-origin:0 0;z-index:1;">(14,</div>
<div class="t" id="t33" style="left:77.40px;top:573.00px;color:#434651;letter-spacing:0.497px;z-index:1;">close)</div>
<div class="t" id="t34" style="left:128.80px;top:573.00px;color:#8e1599;letter-spacing:0.000px;transform:scaleX(0.9428);transform-origin:0 0;z-index:1;">40.03</div>
<div class="t" id="t35" style="left:1397.70px;top:35.00px;color:#434651;letter-spacing:0.000px;transform:scaleX(0.9501);transform-origin:0 0;z-index:1;">100.00</div>
<div class="t" id="t36" style="left:1397.70px;top:78.00px;color:#434651;letter-spacing:0.000px;transform:scaleX(0.9428);transform-origin:0 0;z-index:1;">50.00</div>
<div class="t" id="t37" style="left:1397.70px;top:121.00px;color:#434651;letter-spacing:-0.268px;z-index:1;">0.00</div>
<div class="t" id="t38" style="left:1394.80px;top:148.00px;color:#434651;letter-spacing:0.000px;transform:scaleX(0.8556);transform-origin:0 0;z-index:1;">USD</div>
<div class="t" id="t39" style="left:1397.70px;top:215.00px;color:#434651;letter-spacing:0.000px;transform:scaleX(0.9428);transform-origin:0 0;z-index:1;">31.00</div>
<div class="t" id="t40" style="left:1397.70px;top:277.00px;color:#434651;letter-spacing:0.000px;transform:scaleX(0.9428);transform-origin:0 0;z-index:1;">27.00</div>
<div class="t" id="t41" style="left:1397.70px;top:390.00px;color:#434651;letter-spacing:0.000px;transform:scaleX(0.9428);transform-origin:0 0;z-index:1;">21.00</div>
<div class="t" id="t42" style="left:1397.70px;top:435.00px;color:#434651;letter-spacing:0.000px;transform:scaleX(0.9428);transform-origin:0 0;z-index:1;">19.00</div>
<div class="t" id="t43" style="left:1397.70px;top:485.00px;color:#434651;letter-spacing:0.000px;transform:scaleX(0.9428);transform-origin:0 0;z-index:1;">17.00</div>
<div class="t" id="t44" style="left:1397.70px;top:526.00px;color:#434651;letter-spacing:0.000px;transform:scaleX(0.9428);transform-origin:0 0;z-index:1;">15.50</div>
<div class="t" id="t45" style="left:1397.70px;top:569.00px;color:#434651;letter-spacing:0.000px;transform:scaleX(0.9428);transform-origin:0 0;z-index:1;">80.00</div>
<div class="t" id="t46" style="left:1397.70px;top:618.00px;color:#434651;letter-spacing:0.000px;transform:scaleX(0.9428);transform-origin:0 0;z-index:1;">60.00</div>
<div class="t" id="t47" style="left:1397.70px;top:667.00px;color:#434651;letter-spacing:0.000px;transform:scaleX(0.9428);transform-origin:0 0;z-index:1;">40.00</div>
<div class="t" id="t48" style="left:69.30px;top:734.00px;color:#434651;letter-spacing:1.678px;z-index:1;">Oct</div>
<div class="t" id="t49" style="left:227.60px;top:734.00px;color:#434651;letter-spacing:0.006px;z-index:1;">Nov</div>
<div class="t" id="t50" style="left:384.70px;top:734.00px;color:#434651;letter-spacing:0.000px;transform:scaleX(0.9518);transform-origin:0 0;z-index:1;">Dec</div>
<div class="t" id="t51" style="left:699.90px;top:734.00px;color:#434651;letter-spacing:-0.080px;z-index:1;">Feb</div>
<div class="t" id="t52" style="left:841.60px;top:734.00px;color:#434651;letter-spacing:0.778px;z-index:1;">Mar</div>
<div class="t" id="t53" style="left:1015.40px;top:734.00px;color:#434651;letter-spacing:0.728px;z-index:1;">Apr</div>
<div class="t" id="t54" style="left:1163.50px;top:734.00px;color:#434651;letter-spacing:0.078px;z-index:1;">May</div>
<div class="t" id="t55" style="left:1322.50px;top:734.00px;color:#434651;letter-spacing:0.606px;z-index:1;">Jun</div>
<div class="t" id="t56" style="left:545.30px;top:734.00px;color:#434651;letter-spacing:0.642px;font-weight:bold;z-index:1;">2022</div>
<div class="t" id="t57" style="left:41.60px;top:774.00px;color:#131722;letter-spacing:0.625px;z-index:1;">TradingView</div>
<div class="t" id="t58" style="left:1346.90px;top:172.00px;color:#131722;letter-spacing:0.000px;transform:scaleX(0.9689);transform-origin:0 0;z-index:3;">High</div>
<div class="t" id="t59" style="left:1397.90px;top:173.00px;color:#131722;letter-spacing:0.000px;transform:scaleX(0.9428);transform-origin:0 0;z-index:3;">34.04</div>
<div class="t" id="t60" style="left:1354.80px;top:338.00px;color:#131722;letter-spacing:0.000px;transform:scaleX(0.8875);transform-origin:0 0;z-index:3;">Avg</div>
<div class="t" id="t61" style="left:1397.70px;top:339.00px;color:#131722;letter-spacing:0.000px;transform:scaleX(0.9428);transform-origin:0 0;z-index:3;">23.05</div>
<div class="t" id="t62" style="left:1349.30px;top:518.00px;color:#131722;letter-spacing:0.284px;z-index:3;">Low</div>
<div class="t" id="t63" style="left:1398.60px;top:518.00px;color:#131722;letter-spacing:0.000px;transform:scaleX(0.9428);transform-origin:0 0;z-index:3;">15.81</div>
<div class="t" id="t64" style="left:1397.40px;top:361.00px;color:#ffffff;letter-spacing:0.000px;transform:scaleX(0.9428);transform-origin:0 0;z-index:3;">22.44</div>
<div class="t" id="t65" style="left:1397.40px;top:378.00px;color:rgba(255,255,255,0.8);letter-spacing:0.000px;transform:scaleX(0.9573);transform-origin:0 0;z-index:3;">01:56:28</div>
<div class="b" style="left:1341px;top:171px;width:99px;height:20.5px;background:#e3effd;z-index:2;"></div>
<div class="b" style="left:1350px;top:337px;width:90px;height:20.5px;background:#e3effd;z-index:2;"></div>
<div class="b" style="left:1344px;top:515px;width:96px;height:21px;background:#e3effd;z-index:2;"></div>
<div class="b" style="left:1385px;top:358px;width:75px;height:39px;background:#ef5350;z-index:2;border-radius:0 3px 3px 0;"></div>
<div style="position:absolute;left:1386px;top:171px;width:54px;height:8px;z-index:2;background:linear-gradient(rgba(255,255,255,0.75),rgba(255,255,255,0));border-radius:0 3px 0 0" class="hg"></div>
</body></html>
